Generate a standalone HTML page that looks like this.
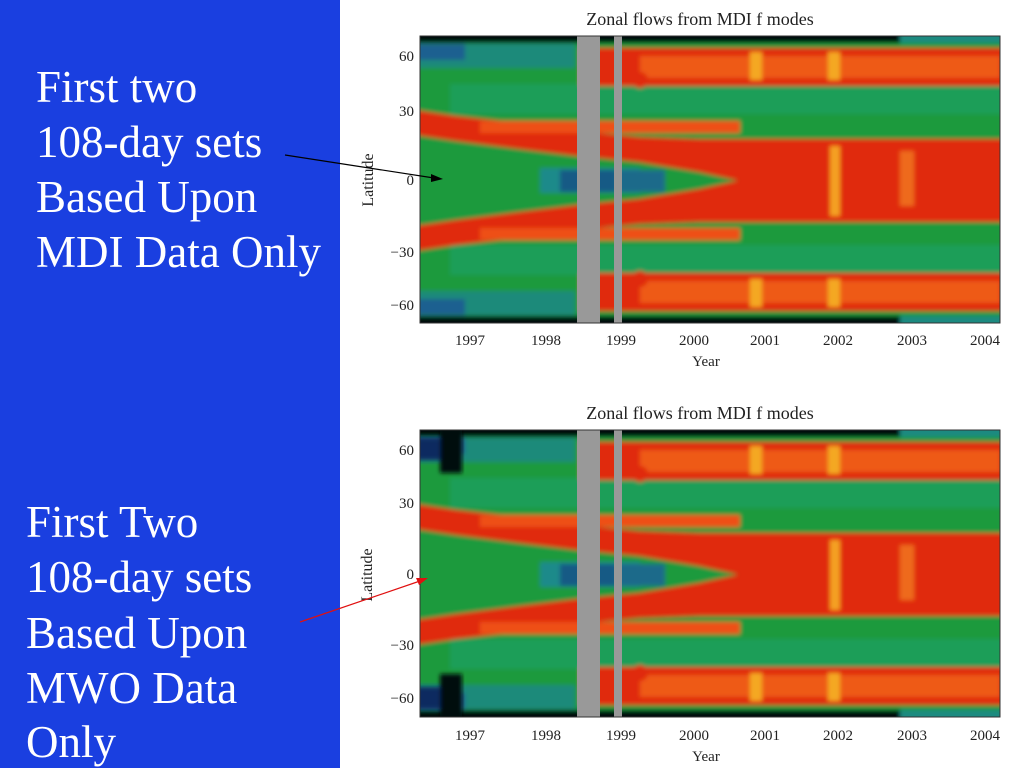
<!DOCTYPE html>
<html><head><meta charset="utf-8"><style>
body{margin:0;width:1024px;height:768px;overflow:hidden;background:#fff;font-family:"Liberation Serif",serif}
</style></head><body>
<svg width="1024" height="768" viewBox="0 0 1024 768" xmlns="http://www.w3.org/2000/svg" style="position:absolute;left:0;top:0">
<defs>
<filter id="b" x="-5%" y="-5%" width="110%" height="110%"><feGaussianBlur stdDeviation="2.2"/></filter>
<clipPath id="c"><rect x="0" y="0" width="580" height="287"/></clipPath>
<g id="plot" clip-path="url(#c)">
<g filter="url(#b)">
<rect x="-5" y="-5" width="590" height="297" fill="#1f9a3c"/>
<rect x="30" y="48" width="560" height="30" fill="#1c9e58"/>
<rect x="30" y="209" width="560" height="30" fill="#1c9e58"/>
<rect x="-5" y="8" width="160" height="24" fill="#1a8a7a"/>
<rect x="-5" y="8" width="50" height="16" fill="#1a6090"/>
<rect x="-5" y="255" width="160" height="24" fill="#1a8a7a"/>
<rect x="-5" y="263" width="50" height="16" fill="#1a6090"/>
<rect x="160" y="12" width="430" height="38" fill="#e02a10"/>
<rect x="160" y="237" width="430" height="38" fill="#e02a10"/>
<rect x="220" y="20" width="360" height="22" fill="#ee5a18"/>
<rect x="220" y="245" width="360" height="22" fill="#ee5a18"/>
<rect x="330" y="16" width="12" height="28" fill="#f4a820"/>
<rect x="408" y="16" width="12" height="28" fill="#f4a820"/>
<rect x="330" y="243" width="12" height="28" fill="#f4a820"/>
<rect x="408" y="243" width="12" height="28" fill="#f4a820"/>
<circle cx="220" cy="44" r="8" fill="#e02a10"/>
<circle cx="220" cy="243" r="8" fill="#e02a10"/>
<rect x="-5" y="-5" width="590" height="12" fill="#05080f"/>
<rect x="-5" y="280" width="590" height="12" fill="#05080f"/>
<rect x="480" y="-5" width="110" height="12" fill="#1a8a80"/>
<rect x="480" y="280" width="110" height="12" fill="#1a8a80"/>
<polygon fill="#e02a10" points="-5,74 36,80 99,87 157,95 219,101 279,103 590,103 590,186 279,186 219,188 157,194 99,202 36,209 -5,215"/>
<rect x="60" y="85" width="260" height="12" fill="#ee5018"/>
<rect x="60" y="192" width="260" height="12" fill="#ee5018"/>
<rect x="410" y="110" width="10" height="70" fill="#f4a020"/>
<rect x="480" y="115" width="14" height="55" fill="#ee6a1a"/>
<polygon fill="#1f9a3c" points="-5,99 36,105 99,113 157,120 219,126 279,136 318,144.5 279,153 219,163 157,169 99,176 36,184 -5,190"/>
<rect x="120" y="132" width="100" height="25" fill="#1a8a8a"/>
<rect x="140" y="134" width="60" height="22" fill="#175a85"/>
<rect x="195" y="134" width="50" height="22" fill="#1a6a8a"/>
</g>
<rect x="157" y="-5" width="23" height="297" fill="#999"/>
<rect x="194" y="-5" width="8" height="297" fill="#999"/>
</g>
</defs>
<rect x="0" y="0" width="340" height="768" fill="#1a3fe0"/>
<g fill="#fff" font-size="45" font-family="'Liberation Serif',serif">
<text x="36" y="102">First two</text>
<text x="36" y="157">108-day sets</text>
<text x="36" y="212">Based Upon</text>
<text x="36" y="267">MDI Data Only</text>
<text x="26" y="537">First Two</text>
<text x="26" y="592">108-day sets</text>
<text x="26" y="648">Based Upon</text>
<text x="26" y="703">MWO Data</text>
<text x="26" y="757">Only</text>
</g>
<g transform="translate(420,36)"><use href="#plot"/><rect x="0" y="0" width="580" height="287" fill="none" stroke="#333" stroke-width="1"/></g>
<g transform="translate(420,430)"><use href="#plot"/>
<g clip-path="url(#c)" filter="url(#b)">
<rect x="20" y="-5" width="22" height="48" fill="#05080f"/>
<rect x="20" y="244" width="22" height="48" fill="#05080f"/>
<rect x="-5" y="8" width="25" height="22" fill="#102a60"/>
<rect x="-5" y="257" width="25" height="22" fill="#102a60"/>
</g>
<rect x="0" y="0" width="580" height="287" fill="none" stroke="#333" stroke-width="1"/></g>
<g font-family="'Liberation Serif',serif" fill="#222">
<text x="700" y="25" font-size="18" text-anchor="middle">Zonal flows from MDI f modes</text>
<text x="700" y="419" font-size="18" text-anchor="middle">Zonal flows from MDI f modes</text>
<g font-size="15" text-anchor="end">
<text x="414" y="61">60</text><text x="414" y="116">30</text><text x="414" y="185">0</text><text x="414" y="257">−30</text><text x="414" y="310">−60</text>
<text x="414" y="455">60</text><text x="414" y="508">30</text><text x="414" y="579">0</text><text x="414" y="650">−30</text><text x="414" y="703">−60</text>
</g>
<g font-size="15" text-anchor="middle">
<text x="470" y="345">1997</text><text x="546" y="345">1998</text><text x="621" y="345">1999</text><text x="694" y="345">2000</text><text x="765" y="345">2001</text><text x="838" y="345">2002</text><text x="912" y="345">2003</text><text x="985" y="345">2004</text>
<text x="706" y="366">Year</text>
<text x="470" y="740">1997</text><text x="546" y="740">1998</text><text x="621" y="740">1999</text><text x="694" y="740">2000</text><text x="765" y="740">2001</text><text x="838" y="740">2002</text><text x="912" y="740">2003</text><text x="985" y="740">2004</text>
<text x="706" y="761">Year</text>
</g>
<text transform="translate(373,180) rotate(-90)" font-size="16" text-anchor="middle">Latitude</text>
<text transform="translate(372,575) rotate(-90)" font-size="16" text-anchor="middle">Latitude</text>
</g>
<line x1="285" y1="155" x2="434" y2="178" stroke="#000" stroke-width="1.2"/>
<polygon points="443,179 431,174 431,182" fill="#000"/>
<line x1="300" y1="622" x2="420" y2="581" stroke="#e01010" stroke-width="1.2"/>
<polygon points="428,578 416,578 419,585" fill="#e01010"/>
</svg>
</body></html>
